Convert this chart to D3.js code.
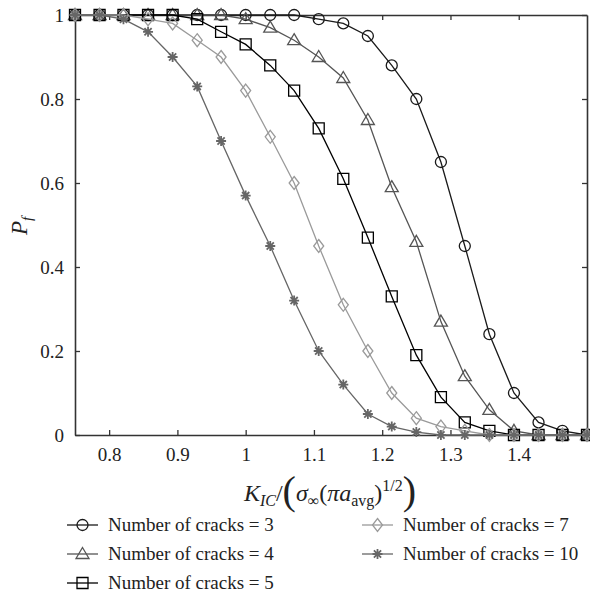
<!DOCTYPE html>
<html>
<head>
<meta charset="utf-8">
<script src="https://cdn.jsdelivr.net/npm/d3@7"></script>
<style>
  body { margin: 0; background: #fff; }
</style>
</head>
<body>
<div id="chart"></div>
<script>
// normalised toughness values (x) shared by all series
const kValues = [0.75, 0.786, 0.821, 0.857, 0.893, 0.929, 0.964, 1.0, 1.036, 1.071, 1.107,
                 1.143, 1.179, 1.214, 1.25, 1.286, 1.321, 1.357, 1.393, 1.429, 1.464, 1.5];

const pf3  = [1, 1, 1, 1, 1, 1, 1, 1, 1, 1, 0.99, 0.98, 0.95, 0.88, 0.80, 0.65, 0.45, 0.24, 0.10, 0.03, 0.01, 0];
const pf4  = [1, 1, 1, 1, 1, 1, 1, 0.99, 0.97, 0.94, 0.90, 0.85, 0.75, 0.59, 0.46, 0.27, 0.14, 0.06, 0.01, 0, 0, 0];
const pf5  = [1, 1, 1, 1, 1, 0.99, 0.96, 0.93, 0.88, 0.82, 0.73, 0.61, 0.47, 0.33, 0.19, 0.09, 0.03, 0.01, 0, 0, 0, 0];
const pf7  = [1, 1, 1, 0.99, 0.98, 0.94, 0.90, 0.82, 0.71, 0.60, 0.45, 0.31, 0.20, 0.10, 0.04, 0.02, 0.01, 0, 0, 0, 0, 0];
const pf10 = [1, 1, 0.99, 0.96, 0.90, 0.83, 0.70, 0.57, 0.45, 0.32, 0.20, 0.12, 0.05, 0.02, 0.007, 0, 0, 0, 0, 0, 0, 0];

const xTicks = [0.8, 0.9, 1.0, 1.1, 1.2, 1.3, 1.4];
const yTicks = [0, 0.2, 0.4, 0.6, 0.8, 1];

const seriesNames = ['Number of cracks = 3', 'Number of cracks = 4', 'Number of cracks = 5',
                     'Number of cracks = 7', 'Number of cracks = 10'];

const series = [
  { name: seriesNames[0], values: pf3,  color: '#1a1a1a', marker: 'circle' },
  { name: seriesNames[1], values: pf4,  color: '#555',    marker: 'triangle' },
  { name: seriesNames[2], values: pf5,  color: '#000',    marker: 'square' },
  { name: seriesNames[3], values: pf7,  color: '#9a9a9a', marker: 'diamond' },
  { name: seriesNames[4], values: pf10, color: '#666',    marker: 'star' }
];

const SERIF = '"Liberation Serif", "DejaVu Serif", "Times New Roman", Times, serif';

const svg = d3.select('#chart')
  .append('svg')
    .attr('width', 590)
    .attr('height', 596)
    .style('font-family', SERIF);

const plotL = 75, plotR = 587, plotT = 15, plotB = 435;

const x = d3.scaleLinear().domain([0.75, 1.5]).range([plotL, plotR]);
const y = d3.scaleLinear().domain([0, 1]).range([plotB, plotT]);

const fmt = d => d3.format('')(+d.toFixed(1));

// axes with inward ticks, mirrored on top / right
const axes = [
  svg.append('g')
      .attr('transform', `translate(0,${plotB})`)
      .call(d3.axisBottom(x).tickValues(xTicks).tickSizeInner(-5).tickSizeOuter(0).tickPadding(13).tickFormat(fmt)),
  svg.append('g')
      .attr('transform', `translate(0,${plotT})`)
      .call(d3.axisTop(x).tickValues(xTicks).tickSizeInner(-5).tickSizeOuter(0).tickFormat('')),
  svg.append('g')
      .attr('transform', `translate(${plotL},0)`)
      .call(d3.axisLeft(y).tickValues(yTicks).tickSizeInner(-5).tickSizeOuter(0).tickPadding(11).tickFormat(fmt)),
  svg.append('g')
      .attr('transform', `translate(${plotR},0)`)
      .call(d3.axisRight(y).tickValues(yTicks).tickSizeInner(-5).tickSizeOuter(0).tickFormat(''))
];
axes.forEach(a => a.attr('font-family', null).attr('font-size', 19));

svg.selectAll('.domain').attr('stroke', '#333').attr('stroke-width', 1.6);
svg.selectAll('.tick line').attr('stroke', '#333').attr('stroke-width', 1.3);
svg.selectAll('.tick text').attr('fill', '#222');

function markerPath(type) {
  switch (type) {
    case 'circle':   return 'M5.5,0A5.5,5.5 0 1,1 -5.5,0A5.5,5.5 0 1,1 5.5,0Z';
    case 'triangle': return 'M0,-6.5L6.5,4.5L-6.5,4.5Z';
    case 'square':   return 'M-5.5,-5.5H5.5V5.5H-5.5Z';
    case 'diamond':  return 'M0,-6.5L5,0L0,6.5L-5,0Z';
    case 'star':     return 'M-5,0H5M0,-5V5M-3.6,-3.6L3.6,3.6M-3.6,3.6L3.6,-3.6';
  }
}

const line = d3.line()
    .x((d, i) => x(kValues[i]))
    .y(d => y(d));

series.forEach(s => {
  const g = svg.append('g');
  g.append('path')
      .datum(s.values)
      .attr('fill', 'none')
      .attr('stroke', s.color)
      .attr('stroke-width', 1.3)
      .attr('d', line);
  g.selectAll('path.mk')
      .data(s.values)
    .join('path')
      .attr('class', 'mk')
      .attr('transform', (d, i) => `translate(${x(kValues[i])},${y(d)})`)
      .attr('d', markerPath(s.marker))
      .attr('fill', 'none')
      .attr('stroke', s.color)
      .attr('stroke-width', s.marker === 'star' ? 1.8 : 1.3);
});

// y label: P_f
svg.append('text')
    .attr('transform', 'translate(27,226) rotate(-90)')
    .attr('text-anchor', 'middle')
    .attr('font-size', 23)
    .attr('font-style', 'italic')
    .attr('fill', '#222')
    .call(t => {
      t.append('tspan').text('P');
      t.append('tspan').attr('font-size', 15).attr('dy', 5).text('f');
    });

// x label: K_IC/(σ∞(πa_avg)^1/2)
const xl = svg.append('text')
    .attr('x', 330)
    .attr('y', 501)
    .attr('text-anchor', 'middle')
    .attr('font-size', 24)
    .attr('fill', '#222');
xl.append('tspan').attr('font-style', 'italic').text('K');
xl.append('tspan').attr('font-style', 'italic').attr('font-size', 16).attr('dy', 5).text('IC');
xl.append('tspan').attr('dy', -5).text('/');
xl.append('tspan').attr('font-size', 40).attr('dy', 3).text('(');
xl.append('tspan').attr('dy', -3).attr('font-style', 'italic').text('σ');
xl.append('tspan').attr('font-size', 16).attr('dy', 5).text('∞');
xl.append('tspan').attr('dy', -5).text('(');
xl.append('tspan').attr('font-style', 'italic').text('πa');
xl.append('tspan').attr('font-size', 16).attr('dy', 5).text('avg');
xl.append('tspan').attr('dy', -5).text(')');
xl.append('tspan').attr('font-size', 16).attr('dy', -10).text('1/2');
xl.append('tspan').attr('font-size', 40).attr('dy', 13).text(')');

// legend
const legendPos = [[67, 525], [67, 554], [67, 583], [362, 525], [362, 554]];
series.forEach((s, i) => {
  const [lx, ly] = legendPos[i];
  const g = svg.append('g').attr('transform', `translate(${lx},${ly})`);
  g.append('line')
      .attr('x1', 0).attr('x2', 31)
      .attr('stroke', s.color)
      .attr('stroke-width', 1.3);
  g.append('path')
      .attr('transform', 'translate(15.5,0)')
      .attr('d', markerPath(s.marker))
      .attr('fill', 'none')
      .attr('stroke', s.color)
      .attr('stroke-width', s.marker === 'star' ? 1.8 : 1.3);
  g.append('text')
      .attr('x', 41)
      .attr('y', 6)
      .attr('font-size', 19)
      .attr('fill', '#222')
      .text(s.name);
});
</script>
</body>
</html>
